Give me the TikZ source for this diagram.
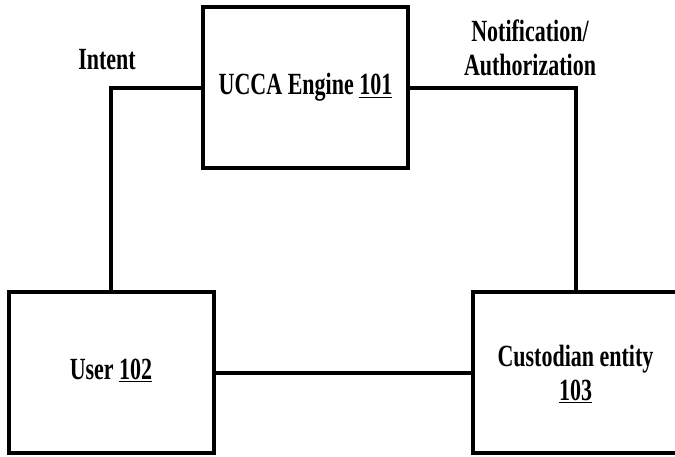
\documentclass[tikz,border=0pt]{standalone}
\usepackage{fontspec}
\setmainfont{Liberation Serif}
\usepackage{graphicx}
\newcommand{\tallbf}[1]{\scalebox{1}[1.4]{\bfseries\fontsize{22}{24}\selectfont\begin{tabular}{@{}c@{}}#1\end{tabular}}}
\tikzset{
  unit/.style={draw, line width=4pt, minimum width=205pt, minimum height=161pt, inner sep=0pt},
  wire/.style={line width=4pt},
}
\begin{document}
\begin{tikzpicture}[x=1pt, y=-1pt]
            \useasboundingbox (0,0) rectangle (675,457);
            \node[unit] (engine) at (305.5,88) {\tallbf{UCCA Engine \underline{101}}};
            \node[unit] (user) at (111,372.5) {\tallbf{User \underline{102}}};
            \node[unit] (custodian) at (575.5,372.5) {};
            \node (custodiantext) at ([yshift=-4pt]custodian.center) {\tallbf{Custodian entity\\[0pt]\underline{103}}};
            \coordinate (intentbend) at (user.north |- engine.west);
            \coordinate (notifybend) at (custodian.north |- engine.east);
            \draw[wire] (user.north) -- (intentbend) -- (engine.west);
            \draw[wire] (engine.east) -- (notifybend) -- (custodian.north);
            \draw[wire] (user.east) -- (custodian.west);
            \node (intent) at (107,63) {\tallbf{Intent}};
            \node (notify) at (530,52) {\tallbf{Notification/\\[0pt]Authorization}};
        \end{tikzpicture}
\end{document}
